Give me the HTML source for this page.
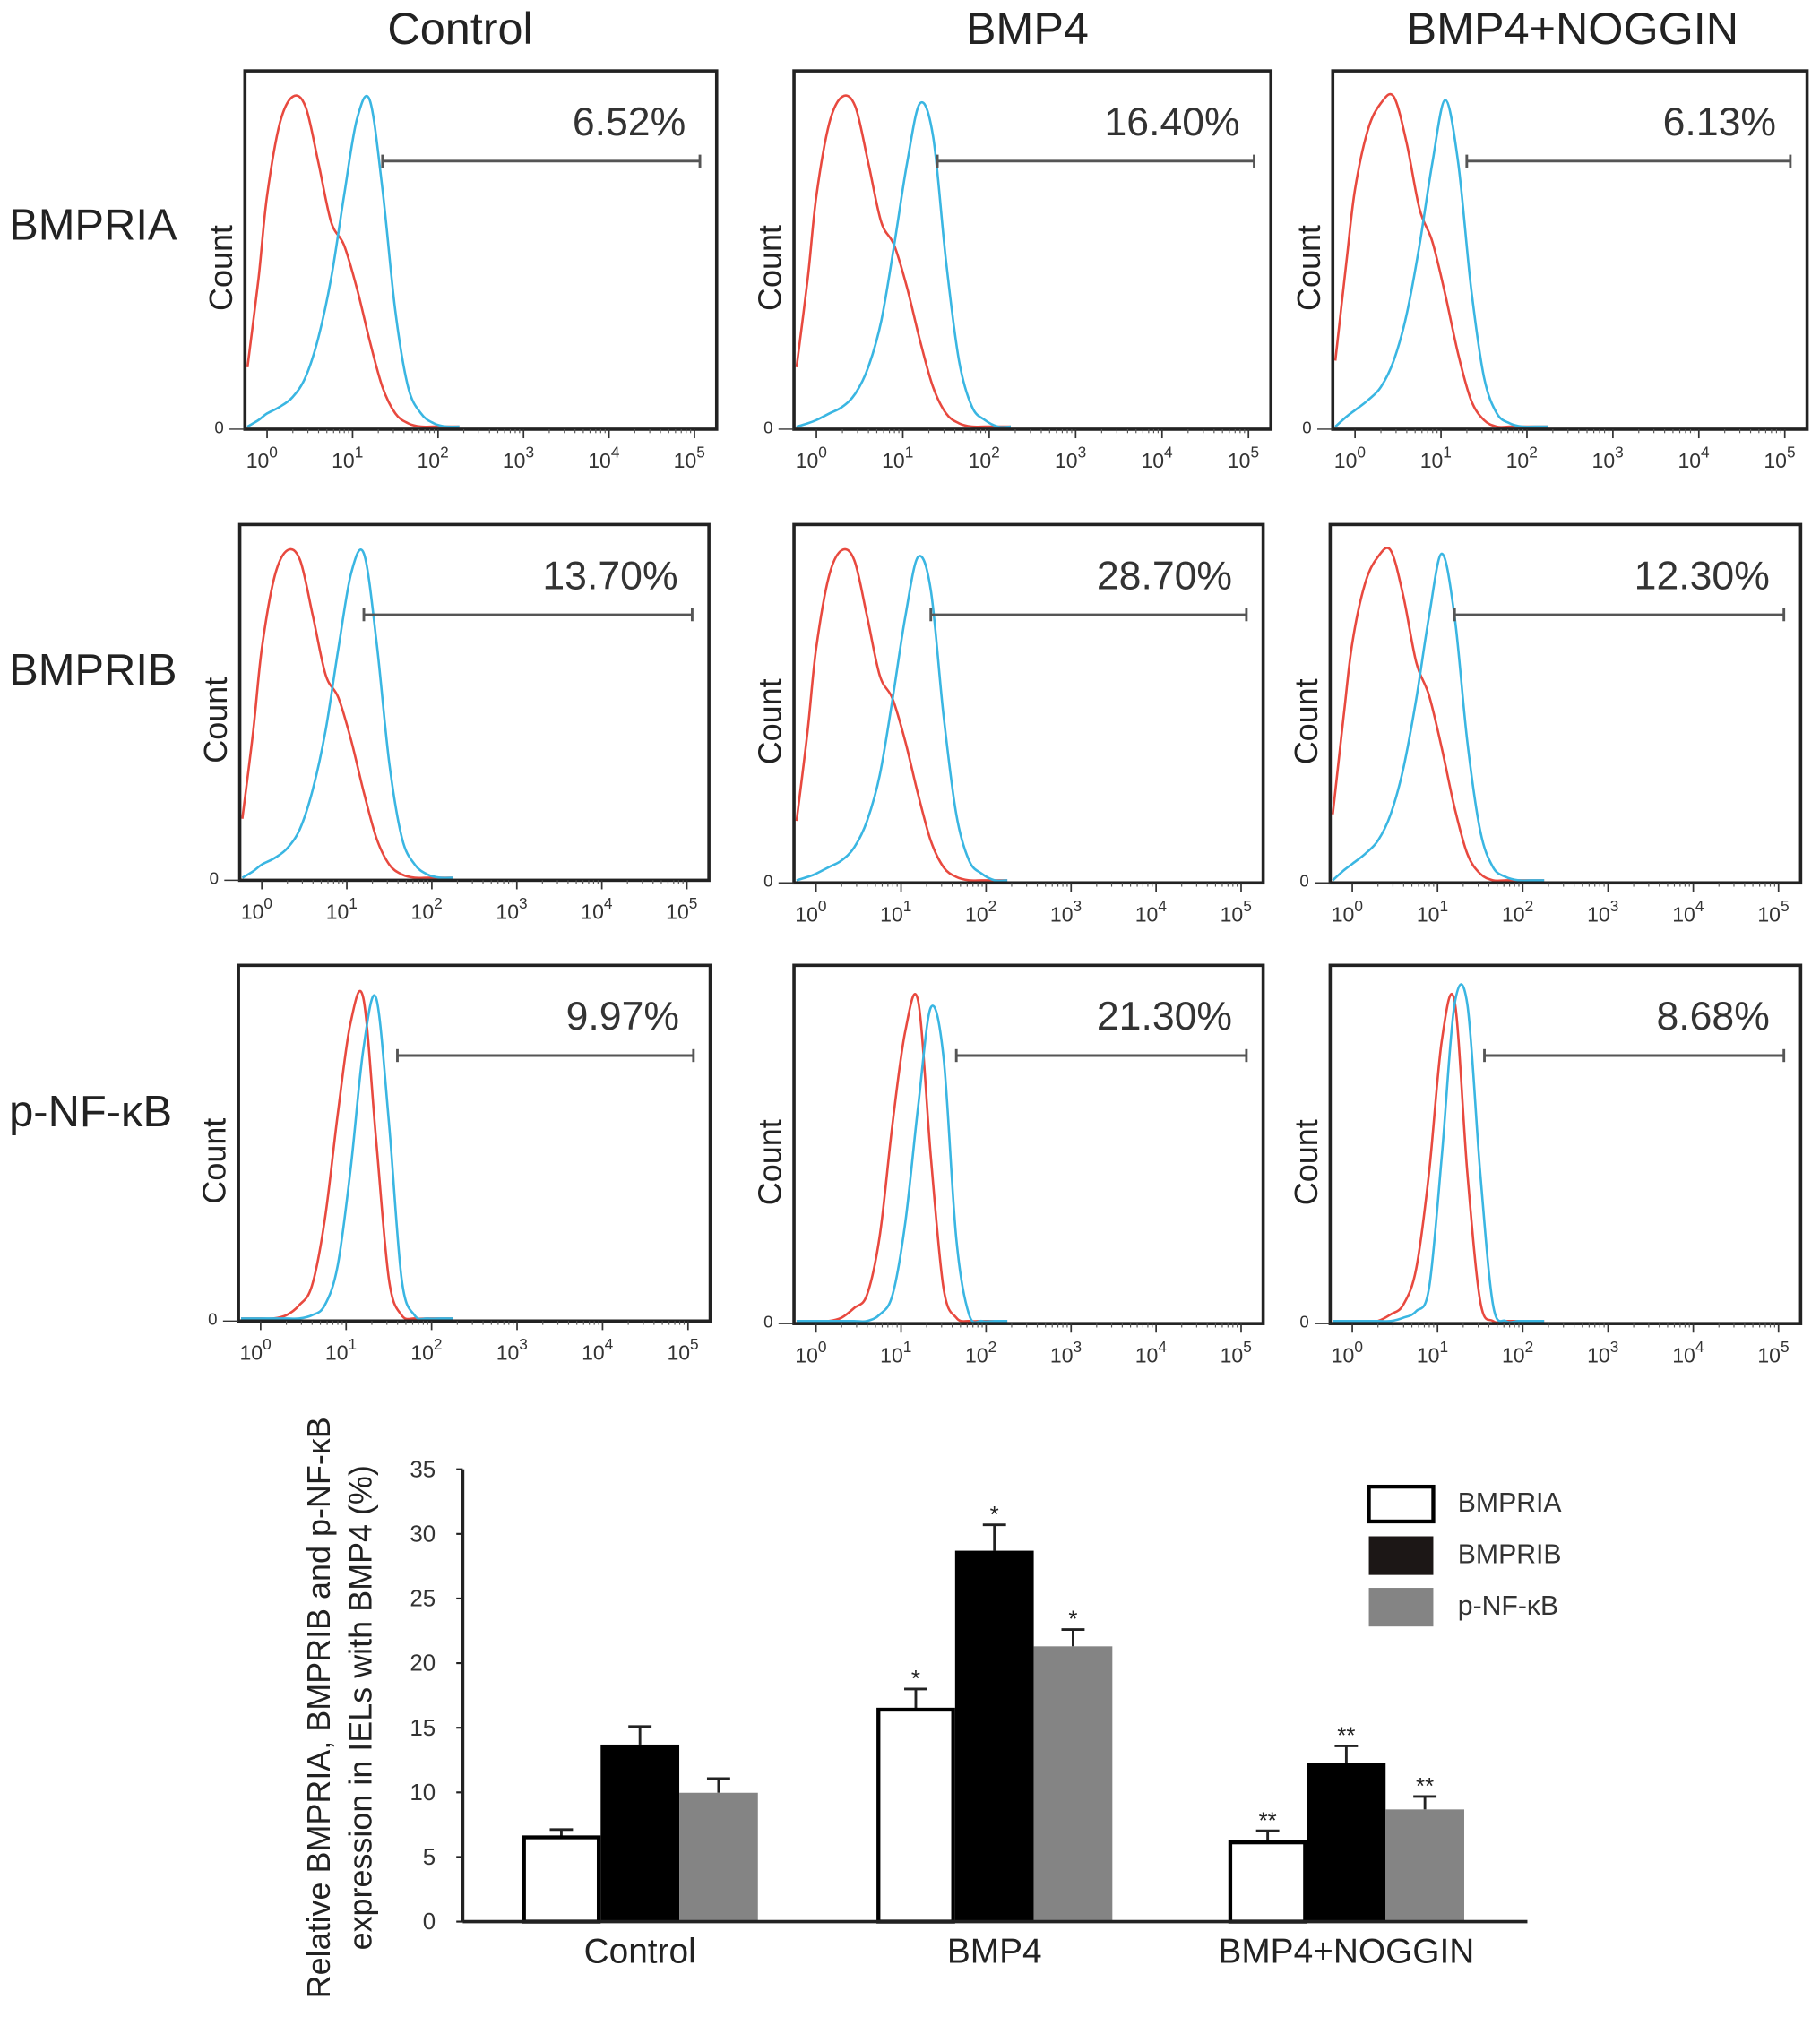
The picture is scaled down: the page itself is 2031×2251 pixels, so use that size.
<!DOCTYPE html>
<html><head><meta charset="utf-8"><style>
html,body{margin:0;padding:0;background:#fff}
svg{display:block}
text{font-family:"Liberation Sans",sans-serif}
</style></head><body>
<svg id="fig" xmlns="http://www.w3.org/2000/svg" width="2031" height="2251" viewBox="0 0 1412 1565">
<rect width="1412" height="1565" fill="#fff"/>
<g id="hists"></g>
<g id="bars"></g>
</svg>
<script>
// ---------- histogram data ----------
const colTitles = ["Control","BMP4","BMP4+NOGGIN"];
const rowTitles = ["BMPRIA","BMPRIB","p-NF-κB"];
const percents = [["6.52%","16.40%","6.13%"],["13.70%","28.70%","12.30%"],["9.97%","21.30%","8.68%"]];
const gateStartLog = [[1.35,1.4,1.3],[1.2,1.35,1.2],[1.6,1.65,1.55]];
const histLogs = [-0.25,-0.1,0,0.15,0.3,0.45,0.6,0.75,0.9,1.05,1.2,1.35,1.5,1.65,1.8,1.95,2.1,2.25];
const redA  = [0.18,0.45,0.7,0.92,1.0,0.97,0.8,0.62,0.55,0.42,0.26,0.12,0.04,0.01,0,0,0,0];
const blueC = [0,0.02,0.04,0.06,0.09,0.15,0.27,0.45,0.7,0.93,0.99,0.72,0.35,0.12,0.04,0.01,0,0];
const blueB4= [0,0.01,0.02,0.04,0.06,0.1,0.18,0.32,0.55,0.8,0.98,0.88,0.5,0.2,0.06,0.02,0,0];
const blueN = [0,0.03,0.05,0.08,0.12,0.2,0.34,0.55,0.8,0.99,0.8,0.42,0.15,0.04,0.01,0,0,0];
const redN  = [0.2,0.5,0.72,0.9,0.98,1.0,0.86,0.66,0.56,0.4,0.22,0.08,0.02,0,0,0,0,0];
const redP  = [0,0,0,0,0.01,0.04,0.1,0.3,0.62,0.9,0.98,0.55,0.12,0.01,0,0,0,0];
const blueP = [0,0,0,0,0,0,0.01,0.04,0.16,0.45,0.82,0.98,0.6,0.12,0.01,0,0,0];
const redPB = [0,0,0,0,0.01,0.04,0.08,0.26,0.6,0.88,0.97,0.5,0.1,0.01,0,0,0,0];
const bluePB= [0,0,0,0,0,0,0,0.02,0.08,0.3,0.65,0.95,0.8,0.25,0.02,0,0,0];
const redPN = [0,0,0,0,0,0.02,0.05,0.16,0.45,0.85,0.97,0.45,0.06,0,0,0,0,0];
const bluePN= [0,0,0,0,0,0,0.01,0.03,0.1,0.5,0.96,0.96,0.45,0.05,0,0,0,0];
const redSeries  = [[redA,redA,redN],[redA,redA,redN],[redP,redPB,redPN]];
const blueSeries = [[blueC,blueB4,blueN],[blueC,blueB4,blueN],[blueP,bluePB,bluePN]];
const boxes = [
 [[190,55,556,333],[616,55,986,333],[1034,55,1402,333]],
 [[186,407,550,683],[616,407,980,685],[1032,407,1397,685]],
 [[185,749,551,1025],[616,749,980,1027],[1032,749,1397,1027]]];

// ---------- bar data ----------
const groups = ["Control","BMP4","BMP4+NOGGIN"];
const seriesNames = ["BMPRIA","BMPRIB","p-NF-κB"];
const vRIA = [6.52,16.4,6.13];
const vRIB = [13.7,28.7,12.3];
const vNFK = [9.97,21.3,8.68];
const eRIA = [0.6,1.6,0.9];
const eRIB = [1.4,2.0,1.3];
const eNFK = [1.1,1.3,1.0];
const stars = ["","*","**"];
const yTicks = [0,5,10,15,20,25,30,35];

const NS="http://www.w3.org/2000/svg";
function mk(tag,attrs,parent,txt){const e=document.createElementNS(NS,tag);for(const k in attrs)e.setAttribute(k,attrs[k]);if(txt!==undefined)e.textContent=txt;parent.appendChild(e);return e;}
function smooth(pts){let d="M"+pts[0][0]+","+pts[0][1];for(let i=0;i<pts.length-1;i++){const p0=pts[Math.max(0,i-1)],p1=pts[i],p2=pts[i+1],p3=pts[Math.min(pts.length-1,i+2)];
 const c1=[p1[0]+(p2[0]-p0[0])/6,p1[1]+(p2[1]-p0[1])/6],c2=[p2[0]-(p3[0]-p1[0])/6,p2[1]-(p3[1]-p1[1])/6];
 d+=" C"+c1[0].toFixed(1)+","+c1[1].toFixed(1)+" "+c2[0].toFixed(1)+","+c2[1].toFixed(1)+" "+p2[0].toFixed(1)+","+p2[1].toFixed(1);}return d;}

const H=document.getElementById('hists');
const colX=[357,797,1220];
colTitles.forEach((t,i)=>{const e=mk('text',{x:colX[i],y:34,'font-size':35,'text-anchor':'middle',fill:'#222'},H,t);

});
const rowY=[186,531,874];
rowTitles.forEach((t,i)=>{const e=mk('text',{x:7,y:rowY[i],'font-size':34,fill:'#222'},H,t);

});

for(let r=0;r<3;r++)for(let c=0;c<3;c++){
 const [l,t,rt,b]=boxes[r][c];const w=rt-l,h=b-t;
 const g=mk('g',{},H);
 
 
 const xs=v=>l+0.047*w+v*(0.906*w/5);
 const ys=v=>b-2-v*(h-22);
 [[redSeries[r][c],'#e8493f'],[blueSeries[r][c],'#3ab6e2']].forEach(([arr,col])=>{
  const pts=histLogs.map((lg,i)=>[Math.max(l+2,xs(lg)),ys(arr[i])]);
  const p=mk('path',{d:smooth(pts),fill:'none',stroke:col,'stroke-width':1.8},g);
  
  
 });
 const bx=mk('rect',{x:l,y:t,width:w,height:h,fill:'none',stroke:'#222','stroke-width':2.5},g);
 
 
 for(let d=0;d<=5;d++){
  const x=xs(d);
  mk('line',{x1:x,y1:b,x2:x,y2:b+7,stroke:'#333','stroke-width':1.2},g);
  for(let m=2;m<10&&d<5;m++){const xm=xs(d+Math.log10(m));mk('line',{x1:xm,y1:b,x2:xm,y2:b+3,stroke:'#555','stroke-width':0.8},g);}
  const tx=mk('text',{x:x-4,y:b+30,'font-size':16,'text-anchor':'middle',fill:'#333'},g,'10');
  mk('tspan',{dy:-8,'font-size':12},tx,String(d));
  
  
 }
 mk('line',{x1:l-12,y1:b,x2:l,y2:b,stroke:'#333','stroke-width':1},g);
 const z=mk('text',{x:l-20,y:b+3,'font-size':13,'text-anchor':'middle',fill:'#333'},g,'0');
 
 
 const cy=t+h*0.55;
 const ct=mk('text',{x:0,y:0,'font-size':25,'text-anchor':'middle',fill:'#222',transform:`translate(${l-10},${cy}) rotate(-90)`},g,'Count');
 
 
 const pc=mk('text',{x:rt-24,y:t+50,'font-size':31,'text-anchor':'end',fill:'#333'},g,percents[r][c]);
 
 
 const gx=xs(gateStartLog[r][c]),gy=t+70,ge=rt-13;
 const gl=mk('g',{},g);
 
 
 mk('line',{x1:gx,y1:gy,x2:ge,y2:gy,stroke:'#555','stroke-width':2},gl);
 mk('line',{x1:gx,y1:gy-5,x2:gx,y2:gy+5,stroke:'#555','stroke-width':2},gl);
 mk('line',{x1:ge,y1:gy-5,x2:ge,y2:gy+5,stroke:'#555','stroke-width':2},gl);
}

// ---------- bar chart ----------
const B=document.getElementById('bars');
const ax={x0:359,x1:1185,y0:1491,y1:1140};
const yv=v=>ax.y0-v*(ax.y0-ax.y1)/35;
const groupStart=[405,680,953];const bw=61;
yTicks.forEach(v=>{mk('line',{x1:ax.x0-5,y1:yv(v),x2:ax.x0,y2:yv(v),stroke:'#222','stroke-width':1.5},B);
 const e=mk('text',{x:ax.x0-21,y:yv(v)+6,'font-size':18,'text-anchor':'end',fill:'#333'},B,String(v));
 
 });
const vals=[vRIA,vRIB,vNFK],errs=[eRIA,eRIB,eNFK];
const fills=['#fff','#000','#848484'];
groups.forEach((gname,gi)=>{
 for(let s=0;s<3;s++){
  const x=groupStart[gi]+s*bw,v=vals[s][gi],e=errs[s][gi];
  const cx=x+bw/2;
  mk('line',{x1:cx,y1:yv(v),x2:cx,y2:yv(v+e),stroke:'#222','stroke-width':2},B);
  mk('line',{x1:cx-9,y1:yv(v+e),x2:cx+9,y2:yv(v+e),stroke:'#222','stroke-width':2},B);
  const rc=mk('rect',{x:x+(s===0?1.5:0),y:yv(v),width:bw-(s===0?3:0),height:ax.y0-yv(v),fill:fills[s],stroke:s===0?'#000':'none','stroke-width':3},B);
  
  
  if(stars[gi]){const st=mk('text',{x:cx,y:yv(v+e)-2,'font-size':18,'text-anchor':'middle',fill:'#222'},B,stars[gi]);
   
   }
 }
 const gl=mk('text',{x:groupStart[gi]+bw*1.5,y:1523,'font-size':27,'text-anchor':'middle',fill:'#222'},B,gname);
 
 
});
mk('line',{x1:ax.x0,y1:ax.y1,x2:ax.x0,y2:ax.y0,stroke:'#222','stroke-width':2.5},B);
mk('line',{x1:ax.x0,y1:ax.y0,x2:ax.x1,y2:ax.y0,stroke:'#222','stroke-width':2.5},B);
const yt=mk('text',{'font-size':25,'text-anchor':'middle',fill:'#222',transform:'translate(256,1325) rotate(-90)'},B);
mk('tspan',{x:0,y:0},yt,'Relative BMPRIA, BMPRIB and p-NF-κB');
mk('tspan',{x:0,y:32},yt,'expression in IELs with BMP4 (%)');


const legY=[1152,1192,1232];
seriesNames.forEach((n,i)=>{
 const lg=mk('g',{},B);
 
 
 mk('rect',{x:1062,y:legY[i]+(i===0?1.5:0),width:50,height:30-(i===0?3:0),fill:i===1?'#1c1716':fills[i],stroke:i===0?'#000':'none','stroke-width':3},lg);
 mk('text',{x:1131,y:legY[i]+21,'font-size':21,fill:'#333'},lg,n);
});
</script>
</body></html>
